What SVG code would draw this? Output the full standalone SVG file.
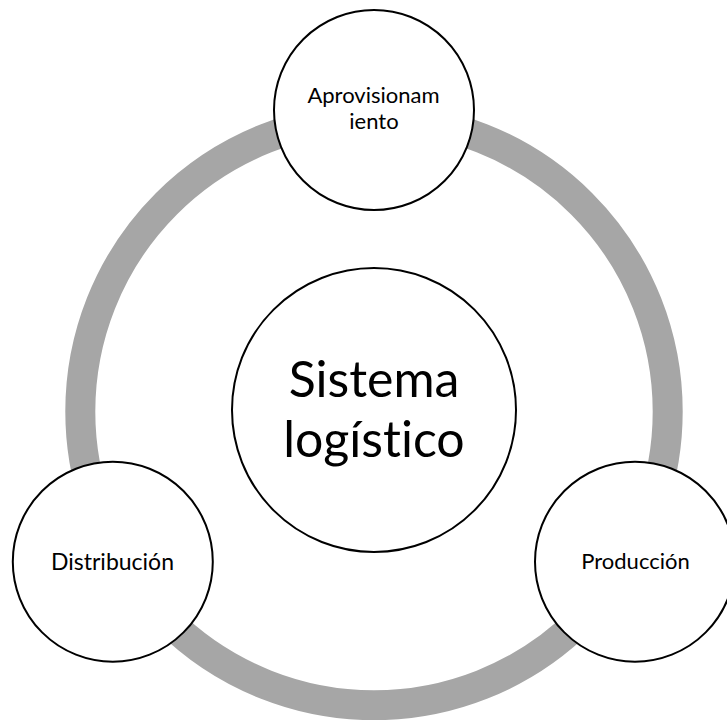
<svg xmlns="http://www.w3.org/2000/svg" width="727" height="720" viewBox="0 0 727 720">
  <style>
    .node { fill: #ffffff; stroke: #000000; stroke-width: 2; }
    .ring { fill: none; stroke: #a6a6a6; stroke-width: 30; }
    .lbl { font-family: Lato, "Liberation Sans", sans-serif; fill: #000000; text-anchor: middle; font-variant-ligatures: none; }
    .small { font-size: 22px; }
    .big { font-size: 50px; }
  </style>
  <rect width="727" height="720" fill="#ffffff"/>
  <g id="connectors">
    <circle class="ring" cx="374" cy="411.5" r="293.7"/>
  </g>
  <g id="center">
    <circle class="node" cx="374" cy="410" r="142"/>
    <text class="lbl big" x="374" y="396.7">Sistema</text>
    <text class="lbl big" x="374" y="456.7">logístico</text>
  </g>
  <g id="aprovisionamiento">
    <circle class="node" cx="374" cy="110" r="100"/>
    <text class="lbl small" x="373.5" y="103.3">Aprovisionam</text>
    <text class="lbl small" x="374" y="129.3">iento</text>
  </g>
  <g id="distribucion">
    <circle class="node" cx="112.8" cy="561.7" r="100"/>
    <text class="lbl small" x="112.5" y="570" style="font-size:23px">Distribución</text>
  </g>
  <g id="produccion">
    <circle class="node" cx="635" cy="561.7" r="100"/>
    <text class="lbl small" x="635.5" y="569.3">Producción</text>
  </g>
</svg>
